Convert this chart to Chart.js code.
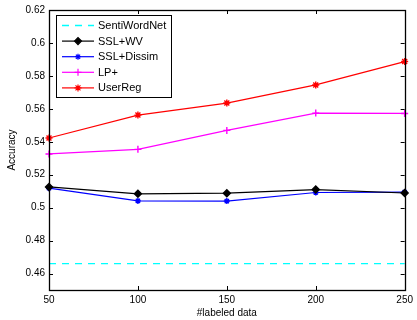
<!DOCTYPE html>
<html>
<head>
<meta charset="utf-8">
<script src="https://cdn.jsdelivr.net/npm/chart.js@4/dist/chart.umd.min.js"></script>
<style>
html,body{margin:0;padding:0;background:#fff;}
#wrap{width:417px;height:320px;}
</style>
</head>
<body>
<div id="wrap"><canvas id="chart" width="417" height="320"></canvas></div>
<script>
// data
const labeledData = [50, 100, 150, 200, 250];
const sentiWordNet = [0.466, 0.466, 0.466, 0.466, 0.466];
const sslWv = [0.5126, 0.5084, 0.5088, 0.5110, 0.5089];
const sslDissim = [0.5118, 0.5041, 0.5040, 0.5092, 0.5094];
const lpPlus = [0.5326, 0.5354, 0.5469, 0.5574, 0.5572];
const userReg = [0.5423, 0.5562, 0.5635, 0.5745, 0.5887];
const yTicks = [0.46, 0.48, 0.5, 0.52, 0.54, 0.56, 0.58, 0.6, 0.62];
const xTicks = [50, 100, 150, 200, 250];

const FONT = "'Liberation Sans', Arial, Helvetica, sans-serif";

function pts(vals){
    return vals.map((v,i)=>({x:labeledData[i], y:v}));
}

const series = [
    {label:"SentiWordNet", data:sentiWordNet, color:"#00ffff", style:false, dash:[7,6], r:0},
    {label:"SSL+WV", data:sslWv, color:"#000000", style:"rectRot", dash:[], r:3.5},
    {label:"SSL+Dissim", data:sslDissim, color:"#0000ff", style:"star", dash:[], r:3},
    {label:"LP+", data:lpPlus, color:"#ff00ff", style:"cross", dash:[], r:3.5},
    {label:"UserReg", data:userReg, color:"#ff0000", style:"star", dash:[], r:3.5}
];

// matlab style box, inner ticks and legend
const matlabBox = {
    id:"matlabBox",
    afterDatasetsDraw(chart){
        const ctx = chart.ctx;
        const a = chart.chartArea;
        const xs = chart.scales.x, ys = chart.scales.y;
        ctx.save();
        ctx.strokeStyle = "#000";
        ctx.lineWidth = 1;
        ctx.beginPath();
        xTicks.forEach(t=>{
            const px = Math.round(xs.getPixelForValue(t))+0.5;
            ctx.moveTo(px, a.bottom); ctx.lineTo(px, a.bottom-4);
            ctx.moveTo(px, a.top); ctx.lineTo(px, a.top+4);
        });
        yTicks.forEach(t=>{
            const py = Math.round(ys.getPixelForValue(t))+0.5;
            ctx.moveTo(a.left, py); ctx.lineTo(a.left+4, py);
            ctx.moveTo(a.right, py); ctx.lineTo(a.right-4, py);
        });
        ctx.stroke();
        ctx.lineWidth = 1.3;
        ctx.strokeRect(Math.round(a.left)+0.5, Math.round(a.top)+0.5, Math.round(a.right-a.left), Math.round(a.bottom-a.top));

        // legend
        const lx = 56, ly = 15, lw = 115, lh = 82;
        ctx.fillStyle = "#fff";
        ctx.fillRect(lx, ly, lw, lh);
        ctx.lineWidth = 1;
        ctx.strokeRect(lx+0.5, ly+0.5, lw, lh);
        ctx.font = "11px " + FONT;
        ctx.textBaseline = "middle";
        ctx.textAlign = "left";
        chart.data.datasets.forEach((ds,i)=>{
            const y = ly + 10.5 + i*15.6;
            ctx.strokeStyle = ds.borderColor;
            ctx.lineWidth = ds.borderWidth;
            ctx.setLineDash(ds.borderDash || []);
            ctx.beginPath();
            ctx.moveTo(62, y); ctx.lineTo(94, y);
            ctx.stroke();
            ctx.setLineDash([]);
            if(ds.pointStyle && Chart.helpers && Chart.helpers.drawPoint){
                ctx.fillStyle = ds.borderColor;
                Chart.helpers.drawPoint(ctx, {pointStyle:ds.pointStyle, radius:ds.pointRadius, borderWidth:1.2, rotation:0}, 78, y);
            }
            ctx.fillStyle = "#000";
            ctx.fillText(ds.label, 98, y+0.5);
        });
        ctx.restore();
    }
};

new Chart(document.getElementById("chart"), {
    type:"line",
    data:{
        datasets: series.map(s=>({
            label:s.label,
            data:pts(s.data),
            borderColor:s.color,
            backgroundColor:s.color,
            borderWidth:s.r ? 1.2 : 1.4,
            borderDash:s.dash,
            pointStyle:s.style,
            pointRadius:s.r,
            pointHoverRadius:s.r,
            pointBorderWidth:1.4,
            tension:0,
            fill:false,
            clip:false
        }))
    },
    options:{
        responsive:false,
        animation:false,
        events:[],
        layout:{padding:{top:9, right:10, left:0, bottom:0}},
        plugins:{legend:{display:false}, tooltip:{enabled:false}},
        scales:{
            x:{
                type:"linear",
                min:50, max:250,
                grid:{display:false, drawTicks:false},
                border:{display:false},
                afterBuildTicks:(s)=>{ s.ticks = xTicks.map(v=>({value:v})); },
                afterFit:(s)=>{ s.height = 30; },
                ticks:{color:"#000", padding:4, maxRotation:0, font:{family:FONT, size:10}},
                title:{display:true, text:"#labeled data", color:"#000", padding:{top:0,bottom:1}, font:{family:FONT, size:10}}
            },
            y:{
                min:0.45, max:0.62,
                grid:{display:false, drawTicks:false},
                border:{display:false},
                afterBuildTicks:(s)=>{ s.ticks = yTicks.map(v=>({value:v})); },
                afterFit:(s)=>{ s.width = 49; },
                ticks:{color:"#000", padding:4, font:{family:FONT, size:10},
                    callback:(v)=>String(Number(v.toFixed(2)))},
                title:{display:true, text:"Accuracy", color:"#000", padding:{top:6,bottom:0}, font:{family:FONT, size:10}}
            }
        }
    },
    plugins:[matlabBox]
});
</script>
</body>
</html>
